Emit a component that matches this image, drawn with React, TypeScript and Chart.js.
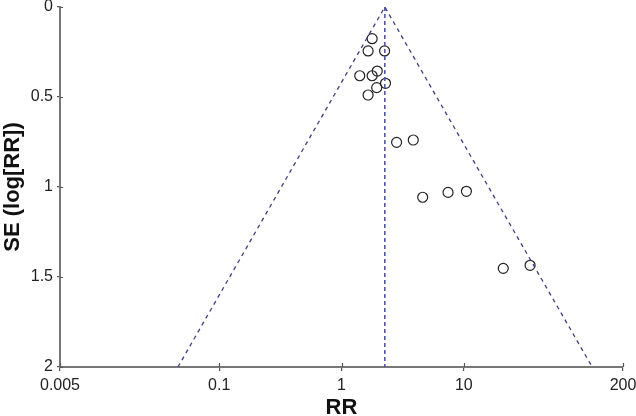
import React, { useEffect, useRef } from "react";
import { Chart, registerables } from "chart.js";

Chart.register(...registerables);

// Study estimates (risk ratio, standard error of log RR)
const studyRR = [1.78, 1.65, 2.25, 1.41, 1.78, 1.96, 2.29, 1.94, 1.65, 2.82, 3.86, 4.61, 7.43, 10.5, 21.0, 34.8];
const studySE = [0.176, 0.244, 0.244, 0.382, 0.382, 0.356, 0.424, 0.448, 0.489, 0.752, 0.739, 1.057, 1.03, 1.024, 1.452, 1.435];

// Pooled estimate and funnel limits (RR at SE = 0 and SE = 2)
const pooledRR = 2.26;
const funnelLowerRR = 0.046;
const funnelUpperRR = 112;
const seRange = [0, 2];

// Axis ticks
const xTicks = [0.005, 0.1, 1, 10, 200];
const yTicks = [0, 0.5, 1, 1.5, 2];

export default function App() {
  const ref = useRef<HTMLCanvasElement | null>(null);

  useEffect(() => {
    document.body.style.margin = "0";
    const canvas = ref.current;
    if (!canvas) return;

    const crossTicks = {
      id: "crossTicks",
      afterDraw(chart: any) {
        const ctx = chart.ctx;
        const xs = chart.scales.x;
        const ys = chart.scales.y;
        ctx.save();
        ctx.strokeStyle = "#555";
        ctx.lineWidth = 1.2;
        ctx.beginPath();
        for (const v of xTicks) {
          const px = Math.round(xs.getPixelForValue(v)) + 0.5;
          ctx.moveTo(px, xs.top - 4);
          ctx.lineTo(px, xs.top);
        }
        for (const v of yTicks) {
          const py = Math.round(ys.getPixelForValue(v)) + 0.5;
          ctx.moveTo(ys.right, py);
          ctx.lineTo(ys.right + 3, py);
        }
        ctx.stroke();
        ctx.restore();
      },
    };

    const chart = new Chart(canvas, {
      type: "scatter",
      data: {
        datasets: [
          {
            type: "line",
            data: [
              { x: funnelLowerRR, y: seRange[1] },
              { x: pooledRR, y: seRange[0] },
              { x: funnelUpperRR, y: seRange[1] },
            ],
            borderColor: "#3c3c8a",
            borderWidth: 1.3,
            borderDash: [4, 4],
            pointRadius: 0,
            fill: false,
            tension: 0,
          } as any,
          {
            type: "line",
            data: [
              { x: pooledRR, y: seRange[0] },
              { x: pooledRR, y: seRange[1] },
            ],
            borderColor: "#5252c0",
            borderWidth: 1.6,
            borderDash: [4, 3],
            pointRadius: 0,
            fill: false,
          } as any,
          {
            data: studyRR.map((x, i) => ({ x, y: studySE[i] })),
            pointStyle: "circle",
            pointRadius: 5,
            pointBorderWidth: 1.2,
            pointBorderColor: "#222",
            pointBackgroundColor: "rgba(255,255,255,0)",
            showLine: false,
          },
        ],
      },
      options: {
        animation: false,
        responsive: false,
        maintainAspectRatio: false,
        layout: { padding: { top: 7, right: 13, left: 0, bottom: 0 } },
        plugins: {
          legend: { display: false },
          tooltip: { enabled: false },
        },
        scales: {
          x: {
            type: "logarithmic",
            min: 0.005,
            max: 200,
            afterBuildTicks(scale: any) {
              scale.ticks = xTicks.map((v) => ({ value: v }));
            },
            afterFit(scale: any) {
              scale.height = 49;
              scale.paddingLeft = 0;
              scale.paddingRight = 0;
            },
            ticks: {
              autoSkip: false,
              maxRotation: 0,
              padding: 5,
              color: "#222",
              font: { family: "Liberation Sans, Arial, sans-serif", size: 16 },
              callback: (v: any) => String(v),
            },
            grid: {
              drawOnChartArea: false,
              drawTicks: true,
              tickLength: 4,
              color: "#555",
              lineWidth: 1.2,
            },
            border: { display: true, color: "#777", width: 2 },
            title: {
              display: true,
              text: "RR",
              color: "#111",
              font: { family: "Liberation Sans, Arial, sans-serif", size: 22, weight: "bold" },
              padding: { top: 0, bottom: -5 },
            },
          },
          y: {
            type: "linear",
            reverse: true,
            min: 0,
            max: 2,
            afterBuildTicks(scale: any) {
              scale.ticks = yTicks.map((v) => ({ value: v }));
            },
            afterFit(scale: any) {
              scale.width = 60;
              scale.paddingTop = 0;
              scale.paddingBottom = 0;
            },
            ticks: {
              padding: 4,
              color: "#222",
              font: { family: "Liberation Sans, Arial, sans-serif", size: 16 },
              callback: (v: any) => String(v),
            },
            grid: {
              drawOnChartArea: false,
              drawTicks: true,
              tickLength: 3,
              color: "#555",
              lineWidth: 1.2,
            },
            border: { display: true, color: "#777", width: 2 },
            title: {
              display: true,
              text: "SE (log[RR])",
              color: "#111",
              font: { family: "Liberation Sans, Arial, sans-serif", size: 22, weight: "bold" },
              padding: { top: 0, bottom: 2 },
            },
          },
        },
      },
      plugins: [crossTicks],
    });

    return () => chart.destroy();
  }, []);

  return (
    <div style={{ width: 636, height: 416, background: "#fff" }}>
      <canvas ref={ref} width={636} height={416} style={{ width: 636, height: 416, display: "block" }} />
    </div>
  );
}
